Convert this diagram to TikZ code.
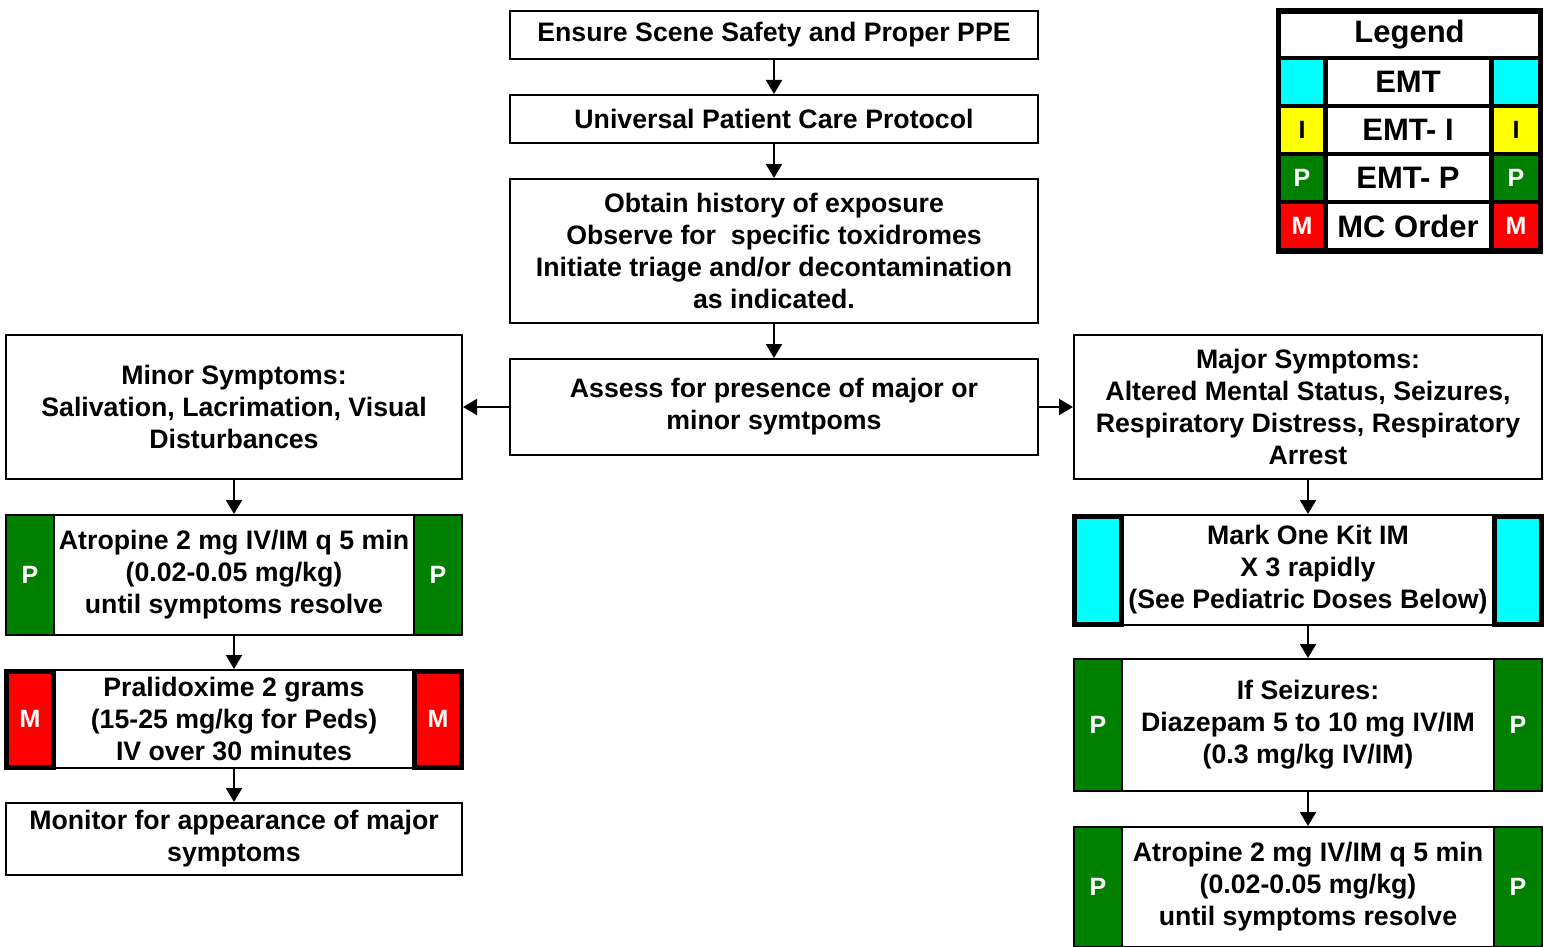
\documentclass[tikz,border=0pt]{standalone}
\usepackage{fontspec}
\setmainfont{Liberation Sans}
\usetikzlibrary{arrows.meta}
\definecolor{cgreen}{RGB}{0,128,0}
\definecolor{cred}{RGB}{255,0,0}
\definecolor{ccyan}{RGB}{0,255,255}
\definecolor{cyellow}{RGB}{255,255,0}
\begin{document}
\begin{tikzpicture}[x=1pt,y=-1pt,
  box/.style={draw=black, line width=2pt, fill=white, align=center, inner sep=0pt,
    font=\bfseries\fontsize{26.7}{32}\selectfont},
  bar/.style={draw=black, line width=2pt, inner sep=0pt, text=white,
    font=\bfseries\fontsize{25}{28}\selectfont},
  pbar/.style={bar, fill=cgreen, minimum width=48pt},
  mbar/.style={bar, fill=cred, line width=5pt, minimum width=47pt, minimum height=96pt},
  ebar/.style={bar, fill=ccyan, line width=5pt, minimum width=47pt, minimum height=108pt},
  lcell/.style={inner sep=0pt, minimum height=44pt, font=\bfseries\fontsize{25}{28}\selectfont},
  lmid/.style={lcell, fill=white, minimum width=161pt, font=\bfseries\fontsize{31}{36}\selectfont},
  flow/.style={line width=2pt, -{Triangle[length=14pt,width=16pt]}}
]
\useasboundingbox (0,0) rectangle (1544,947);

% central column
\node[box, minimum width=528pt, minimum height=48pt] (ensure) at (774,35) {Ensure Scene Safety and Proper PPE};
\node[box, minimum width=528pt, minimum height=48pt] (upc) at (774,119) {Universal Patient Care Protocol};
\node[box, minimum width=528pt, minimum height=144pt] (obtain) at (774,251) {Obtain history of exposure\\Observe for\ \ specific toxidromes\\Initiate triage and/or decontamination\\as indicated.};
\node[box, minimum width=528pt, minimum height=96pt] (assess) at (774,407) {Assess for presence of major or\\minor symtpoms};

% left column
\node[box, minimum width=456pt, minimum height=144pt] (minor) at (234,407) {Minor Symptoms:\\Salivation, Lacrimation, Visual\\Disturbances};
\node[box, minimum width=456pt, minimum height=120pt] (atropL) at (234,575) {Atropine 2 mg IV/IM q 5 min\\(0.02-0.05 mg/kg)\\until symptoms resolve};
\node[pbar, minimum height=120pt] (atropLa) at (30,575) {P};
\node[pbar, minimum height=120pt] (atropLb) at (438,575) {P};
\node[box, minimum width=456pt, minimum height=98pt] (pralid) at (234,719) {Pralidoxime 2 grams\\(15-25 mg/kg for Peds)\\IV over 30 minutes};
\node[mbar] (pralida) at (30,719) {M};
\node[mbar] (pralidb) at (438,719) {M};
\node[box, minimum width=456pt, minimum height=72pt] (monitor) at (234,839) {Monitor for appearance of major\\symptoms};

% right column
\node[box, minimum width=468pt, minimum height=144pt] (major) at (1308,407) {Major Symptoms:\\Altered Mental Status, Seizures,\\Respiratory Distress, Respiratory\\Arrest};
\node[box, minimum width=468pt, minimum height=110pt] (markone) at (1308,570) {Mark One Kit IM\\X 3 rapidly\\(See Pediatric Doses Below)};
\node[ebar] (markonea) at (1098,570) {};
\node[ebar] (markoneb) at (1518,570) {};
\node[box, minimum width=468pt, minimum height=132pt] (seizure) at (1308,725) {If Seizures:\\Diazepam 5 to 10 mg IV/IM\\(0.3 mg/kg IV/IM)};
\node[pbar, minimum height=132pt] (seizurea) at (1098,725) {P};
\node[pbar, minimum height=132pt] (seizureb) at (1518,725) {P};
\node[box, minimum width=468pt, minimum height=120pt] (atropR) at (1308,887) {Atropine 2 mg IV/IM q 5 min\\(0.02-0.05 mg/kg)\\until symptoms resolve};
\node[pbar, minimum height=120pt] (atropRa) at (1098,887) {P};
\node[pbar, minimum height=120pt] (atropRb) at (1518,887) {P};

% connectors
\draw[flow] (ensure) -- (upc);
\draw[flow] (upc) -- (obtain);
\draw[flow] (obtain) -- (assess);
\draw[flow] (assess) -- (minor);
\draw[flow] (assess) -- (major);
\draw[flow] (minor) -- (atropL);
\draw[flow] (atropL) -- (pralid);
\draw[flow] (pralid) -- (monitor);
\draw[flow] (major) -- (markone);
\draw[flow] (markone) -- (seizure);
\draw[flow] (seizure) -- (atropR);

% legend
\node[fill=black, inner sep=0pt, minimum width=267pt, minimum height=245pt] (legend) at (1409.5,131) {};
\node[fill=white, inner sep=0pt, minimum width=257pt, minimum height=42pt, font=\bfseries\fontsize{31}{36}\selectfont] (legtitle) at (1409.5,35) {Legend};
\node[lcell, fill=ccyan, minimum width=42pt] (l1a) at (1302,82) {};
\node[lmid] (l1m) at (1408,82) {EMT};
\node[lcell, fill=ccyan, minimum width=44pt] (l1b) at (1516,82) {};
\node[lcell, fill=cyellow, minimum width=42pt] (l2a) at (1302,130) {I};
\node[lmid] (l2m) at (1408,130) {EMT- I};
\node[lcell, fill=cyellow, minimum width=44pt] (l2b) at (1516,130) {I};
\node[lcell, fill=cgreen, text=white, minimum width=42pt] (l3a) at (1302,178) {P};
\node[lmid] (l3m) at (1408,178) {EMT- P};
\node[lcell, fill=cgreen, text=white, minimum width=44pt] (l3b) at (1516,178) {P};
\node[lcell, fill=cred, text=white, minimum width=42pt] (l4a) at (1302,226) {M};
\node[lmid] (l4m) at (1408,226) {MC Order};
\node[lcell, fill=cred, text=white, minimum width=44pt] (l4b) at (1516,226) {M};
\end{tikzpicture}
\end{document}
